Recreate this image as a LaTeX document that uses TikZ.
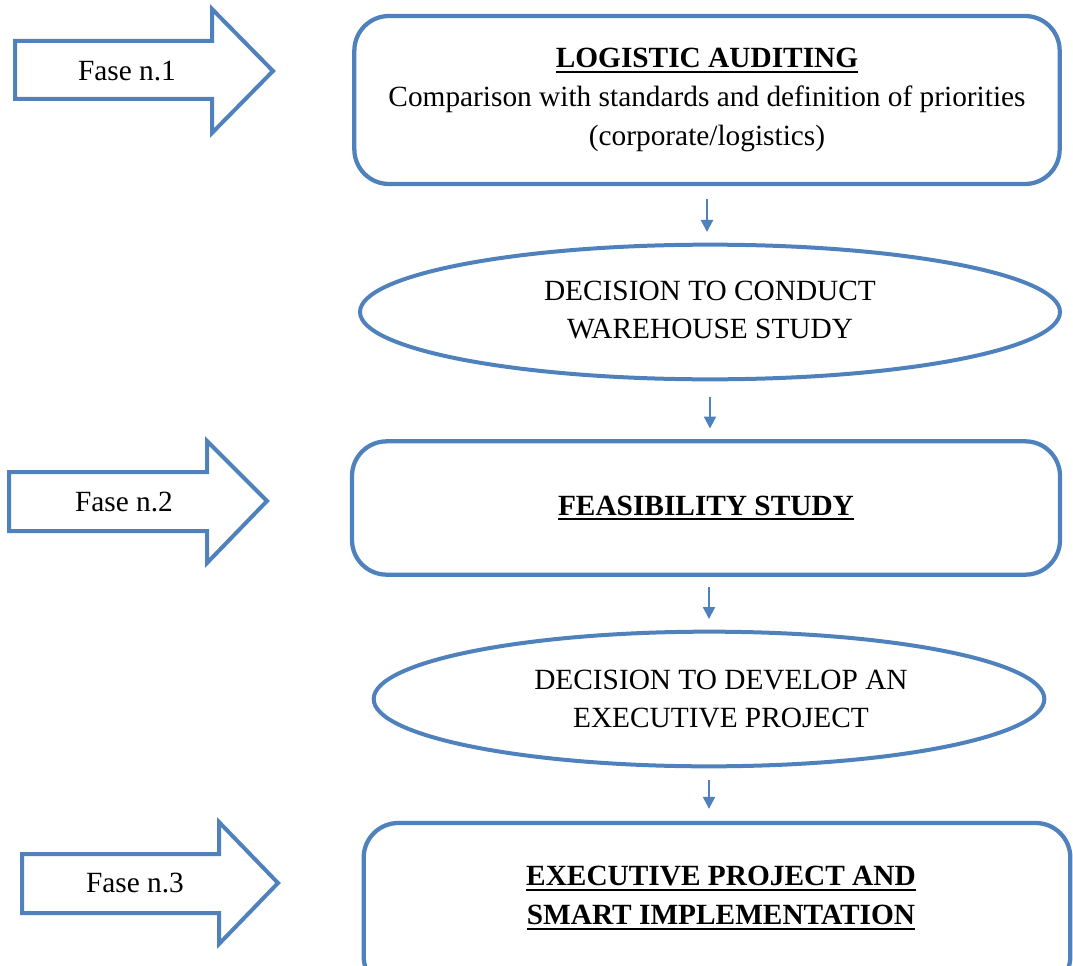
\documentclass[tikz,border=0pt]{standalone}
\usepackage{fontspec}
\setmainfont{Liberation Serif}
\usetikzlibrary{shapes.geometric,arrows.meta}
\definecolor{ofblue}{HTML}{4F81BD}
\newsavebox{\myulbox}
\newcommand{\ul}[1]{\sbox{\myulbox}{\textbf{#1}}\rlap{\usebox{\myulbox}}\rule[-4pt]{\wd\myulbox}{1.6pt}}
\tikzset{
  boxstyle/.style={draw=ofblue, line width=3.2pt, rounded corners=26pt, rectangle, fill=white},
  ellstyle/.style={draw=ofblue, line width=3pt, ellipse, inner sep=0pt},
  bigarrow/.style={draw=ofblue, line width=3pt, line join=miter, fill=white},
  conn/.style={draw=ofblue, line width=1.6pt, -{Triangle[length=9pt,width=9pt]}},
  txt/.style={align=center, font=\fontsize{22}{29}\selectfont, inner sep=0pt},
}
\begin{document}
\begin{tikzpicture}[x=0.75pt,y=-0.75pt]
\useasboundingbox (0,0) rectangle (1073,966);
\begin{scope}
\clip (0,0) rectangle (1073,966);
% phase arrows
\draw[bigarrow] (15,41) -- (212,41) -- (212,9) -- (273,71) -- (212,133) -- (212,99) -- (15,99) -- cycle;
\node[txt] (f1) at (127,71) {Fase n.1};
\draw[bigarrow] (9,472) -- (207,472) -- (207,441) -- (267,501) -- (207,563) -- (207,531) -- (9,531) -- cycle;
\node[txt] (f2) at (124,502) {Fase n.2};
\draw[bigarrow] (22,854) -- (219,854) -- (219,822) -- (278,883) -- (219,944) -- (219,913) -- (22,913) -- cycle;
\node[txt] (f3) at (135,883) {Fase n.3};

% boxes
\node[boxstyle, minimum width=529pt, minimum height=126pt, txt] (b1) at (707,100)
  {\ul{LOGISTIC AUDITING}\\Comparison with standards and definition of priorities\\(corporate/logistics)};
\node[ellstyle, minimum width=525pt, minimum height=101pt] (e1) at (710,312) {};
\node[txt] (e1t) at (710,310) {DECISION TO CONDUCT\\WAREHOUSE STUDY};
\node[boxstyle, minimum width=531pt, minimum height=100pt, txt] (b2) at (706,508) {\ul{FEASIBILITY STUDY}};
\node[ellstyle, minimum width=503pt, minimum height=101pt] (e2) at (709,699) {};
\node[txt] (e2t) at (721,699) {DECISION TO DEVELOP AN\\EXECUTIVE PROJECT};
\node[boxstyle, minimum width=530pt, minimum height=126pt] (b3) at (717,907) {};
\node[txt] (b3t) at (721,898) {\ul{EXECUTIVE PROJECT AND}\\\ul{SMART IMPLEMENTATION}};
\end{scope}

% connectors
\draw[conn, shorten <=10pt, shorten >=8pt] (b1.south) -- (b1.south |- e1.north);
\draw[conn, shorten <=12pt, shorten >=8pt] (e1.south) -- (e1.south |- b2.north);
\draw[conn, shorten <=8pt, shorten >=8pt] (b2.south -| e2.north) -- (e2.north);
\draw[conn, shorten <=9pt, shorten >=9pt] (e2.south) -- (e2.south |- b3.north);
\end{tikzpicture}
\end{document}
